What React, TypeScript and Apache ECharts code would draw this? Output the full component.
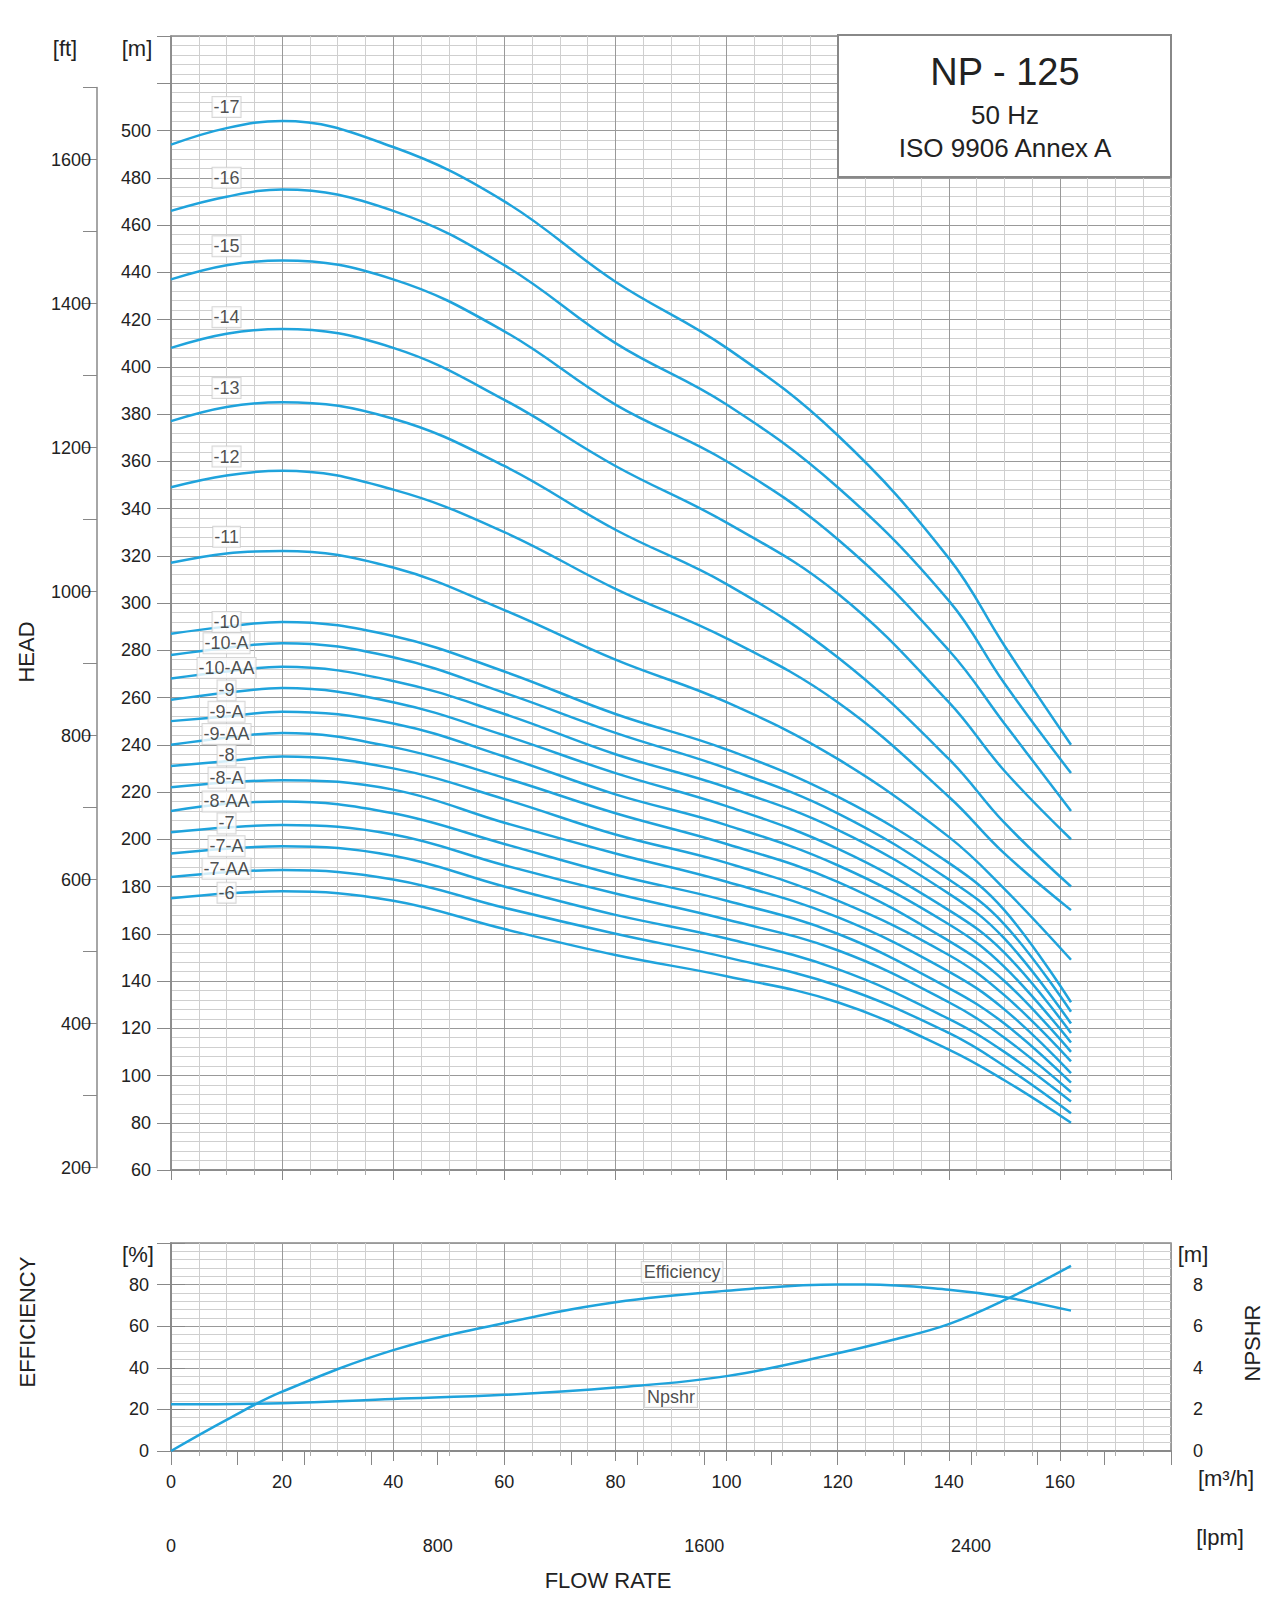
import React, { useEffect, useRef } from "react";
import * as echarts from "echarts";

const flowX = [0, 10, 20, 40, 60, 80, 100, 120, 140, 150, 162];
const curveNames = ["-17", "-16", "-15", "-14", "-13", "-12", "-11", "-10", "-10-A", "-10-AA", "-9", "-9-A", "-9-AA", "-8", "-8-A", "-8-AA", "-7", "-7-A", "-7-AA", "-6"];
const curveHeads = [
  [494, 501, 504, 493, 470, 436, 408, 371, 319, 282, 240],
  [466, 472, 475, 466, 443, 410, 384, 349, 301, 266, 228],
  [437, 443, 445, 437, 415, 384, 360, 327, 280, 249, 212],
  [408, 414, 416, 408, 386, 358, 334, 304, 258, 229, 200],
  [377, 383, 385, 378, 358, 331, 308, 277, 234, 207, 180],
  [349, 354, 356, 348, 330, 306, 285, 258, 218, 194, 170],
  [317, 321, 322, 315, 297, 276, 258, 234, 201, 179, 149],
  [287, 290, 292, 286, 271, 253, 238, 218, 190, 170, 131],
  [278, 281, 283, 277, 262, 245, 230, 211, 183, 164, 127],
  [268, 271, 273, 267, 253, 236, 222, 204, 177, 158, 122],
  [259, 262, 264, 258, 244, 228, 214, 196, 170, 152, 118],
  [250, 252, 254, 249, 235, 219, 206, 189, 164, 146, 114],
  [240, 243, 245, 239, 226, 211, 198, 182, 157, 140, 110],
  [231, 233, 235, 230, 217, 202, 190, 174, 151, 134, 106],
  [222, 224, 225, 221, 207, 194, 182, 167, 144, 128, 101],
  [212, 215, 216, 211, 198, 185, 174, 160, 137, 122, 97],
  [203, 205, 206, 202, 189, 177, 166, 153, 131, 116, 93],
  [194, 196, 197, 193, 180, 168, 158, 145, 124, 110, 89],
  [184, 186, 187, 183, 171, 160, 150, 138, 118, 104, 84],
  [175, 177, 178, 174, 162, 151, 142, 131, 111, 98, 80],
];
const labelX = 10;
const labelHeads = [510, 480, 451, 421, 391, 362, 328, 292, 283, 272.5, 263, 254, 244.6, 235.5, 226, 216, 206.7, 197, 187.5, 177.4];

const effX = [0, 10, 20, 40, 60, 80, 100, 120, 125, 140, 150, 162];
const effValues = [0, 15, 28.5, 48.5, 61.5, 71.5, 77, 80, 80, 77.5, 74, 67.5];
const npshX = [0, 20, 40, 60, 80, 100, 120, 130, 140, 150, 162];
const npshValues = [2.25, 2.3, 2.5, 2.7, 3.05, 3.6, 4.7, 5.35, 6.1, 7.25, 8.9];
const effLabel = [92, 86];
const npshLabel = [90, 26];

const BLUE = "#1fa3dc";
const FONT = "Liberation Sans, Arial, sans-serif";

export default function App() {
  const ref = useRef<HTMLDivElement>(null);
  useEffect(() => {
    const chart = echarts.init(ref.current!, undefined, { renderer: "svg" });
    const L = 171, R = 1280 - 1171;
    const mainTop = 36, mainBot = 1170;
    const ymin = 60, ymax = 540;
    const pxPerM = (mainBot - mainTop) / (ymax - ymin);
    const ftToPx = (ft: number) => mainBot - (ft / 3.28084 - ymin) * pxPerM;
    const ftTop = ftToPx(1700), ftBot = ftToPx(200);
    const lbl = { fontFamily: FONT, fontSize: 18, color: "#222" };
    const gridLine = { lineStyle: { color: "#999", width: 1 } };
    const minorLine = { lineStyle: { color: "#cfcfcf", width: 1 } };

    const series: any[] = [];
    curveNames.forEach((n, i) => {
      series.push({
        type: "line", name: n, xAxisIndex: 0, yAxisIndex: 0, smooth: 0.4, showSymbol: false,
        lineStyle: { color: BLUE, width: 2.5 }, silent: true,
        data: flowX.map((x, j) => [x, curveHeads[i][j]]),
      });
    });
    series.push({
      type: "scatter", xAxisIndex: 0, yAxisIndex: 0, symbolSize: 0, silent: true, z: 5,
      data: curveNames.map((n, i) => ({ value: [labelX, labelHeads[i]], name: n })),
      label: {
        show: true, position: "inside", formatter: (p: any) => p.name, ...lbl,
        backgroundColor: "#fff", borderColor: "#ccc", borderWidth: 1, padding: [1, 1],
      },
    });
    series.push({
      type: "line", xAxisIndex: 2, yAxisIndex: 2, smooth: 0.4, showSymbol: false,
      lineStyle: { color: BLUE, width: 2.5 }, data: effX.map((x, j) => [x, effValues[j]]),
    });
    series.push({
      type: "line", xAxisIndex: 2, yAxisIndex: 3, smooth: 0.4, showSymbol: false,
      lineStyle: { color: BLUE, width: 2.5 }, data: npshX.map((x, j) => [x, npshValues[j]]),
    });
    series.push({
      type: "scatter", xAxisIndex: 2, yAxisIndex: 2, symbolSize: 0, z: 5,
      data: [{ value: effLabel, name: "Efficiency" }, { value: npshLabel, name: "Npshr" }],
      label: {
        show: true, position: "inside", formatter: (p: any) => p.name, ...lbl,
        backgroundColor: "#fff", borderColor: "#ccc", borderWidth: 1, padding: [1, 2],
      },
    });

    const text = (x: number, y: number, t: string, size = 22, extra: any = {}) => ({
      type: "text", x, y, z: 10, ...extra,
      style: { text: t, fontSize: size, fontFamily: FONT, fill: "#222", align: "center", verticalAlign: "middle", ...(extra.style || {}) },
    });

    chart.setOption({
      animation: false,
      backgroundColor: "#fff",
      grid: [
        { left: L, right: R, top: mainTop, bottom: 1624 - mainBot, show: true, borderColor: "#888", borderWidth: 1.5 },
        { left: 97, width: 1, top: ftTop, bottom: 1624 - ftBot },
        { left: L, right: R, top: 1243, bottom: 1624 - 1451, show: true, borderColor: "#888", borderWidth: 1.5 },
      ],
      xAxis: [
        {
          gridIndex: 0, type: "value", min: 0, max: 180, interval: 20,
          axisLine: { lineStyle: { color: "#888", width: 1.5 } },
          axisTick: { show: true, length: 10, lineStyle: { color: "#888" } },
          minorTick: { show: true, splitNumber: 4, length: 5, lineStyle: { color: "#aaa" } },
          axisLabel: { show: false },
          splitLine: { show: true, ...gridLine },
          minorSplitLine: { show: true, ...minorLine },
        },
        { gridIndex: 1, type: "value", min: 0, max: 1, show: false },
        {
          gridIndex: 2, type: "value", min: 0, max: 180, interval: 20,
          axisLine: { lineStyle: { color: "#888", width: 1.5 } },
          axisTick: { show: true, length: 10, lineStyle: { color: "#888" } },
          minorTick: { show: true, splitNumber: 4, length: 5, lineStyle: { color: "#aaa" } },
          axisLabel: { ...lbl, margin: 22, formatter: (v: number) => (v >= 180 ? "" : String(v)) },
          splitLine: { show: true, ...gridLine },
          minorSplitLine: { show: true, ...minorLine },
        },
        {
          gridIndex: 2, type: "value", position: "bottom", offset: 64, min: 0, max: 3000, interval: 200,
          axisLine: { show: true, lineStyle: { color: "#888", width: 1.5 } },
          axisTick: { show: true, inside: false, length: 14, lineStyle: { color: "#888" } },
          axisLabel: { ...lbl, margin: 22, formatter: (v: number) => (v % 800 === 0 ? String(v) : "") },
          splitLine: { show: false },
        },
      ],
      yAxis: [
        {
          gridIndex: 0, type: "value", min: ymin, max: ymax, interval: 20,
          axisLine: { show: true, lineStyle: { color: "#888", width: 1.5 } },
          axisTick: { show: true, length: 14, lineStyle: { color: "#888" } },
          axisLabel: { ...lbl, margin: 20, formatter: (v: number) => (v > 500 ? "" : String(v)) },
          splitLine: { show: true, ...gridLine },
          minorSplitLine: { show: true, ...minorLine },
          minorTick: { show: false, splitNumber: 5 },
        },
        {
          gridIndex: 1, type: "value", min: 200, max: 1700, interval: 100,
          axisLine: { show: true, lineStyle: { color: "#888", width: 1.5 } },
          axisTick: { show: true, length: 14, lineStyle: { color: "#888" } },
          axisLabel: { ...lbl, margin: 6, formatter: (v: number) => (v % 200 === 0 && v <= 1600 ? String(v) : "") },
          splitLine: { show: false },
        },
        {
          gridIndex: 2, type: "value", min: 0, max: 100, interval: 20,
          axisLine: { show: true, lineStyle: { color: "#888", width: 1.5 } },
          axisTick: { show: true, length: 14, lineStyle: { color: "#888" } },
          axisLabel: { ...lbl, margin: 22, formatter: (v: number) => (v >= 100 ? "" : String(v)) },
          splitLine: { show: true, ...gridLine },
          minorSplitLine: { show: true, ...minorLine },
          minorTick: { show: false, splitNumber: 5 },
        },
        {
          gridIndex: 2, type: "value", position: "right", min: 0, max: 10, interval: 2,
          axisLine: { show: true, lineStyle: { color: "#888", width: 1.5 } },
          axisTick: { show: true, length: 14, lineStyle: { color: "#888" } },
          axisLabel: { ...lbl, margin: 22, formatter: (v: number) => (v >= 10 ? "" : String(v)) },
          splitLine: { show: false },
        },
      ],
      series,
      graphic: [
        { type: "rect", z: 8, shape: { x: 838, y: 35, width: 333, height: 142 }, style: { fill: "#fff", stroke: "#888", lineWidth: 2 } },
        text(1005, 72, "NP - 125", 38),
        text(1005, 115, "50 Hz", 26),
        text(1005, 148, "ISO 9906 Annex A", 26),
        text(65, 48, "[ft]", 22),
        text(137, 48, "[m]", 22),
        text(26, 652, "HEAD", 22, { rotation: Math.PI / 2 }),
        text(27, 1322, "EFFICIENCY", 22, { rotation: Math.PI / 2 }),
        text(1252, 1343, "NPSHR", 22, { rotation: Math.PI / 2 }),
        text(138, 1254, "[%]", 22),
        text(1193, 1254, "[m]", 22),
        text(1226, 1478, "[m³/h]", 22),
        text(1220, 1537, "[lpm]", 22),
        text(608, 1580, "FLOW RATE", 22),
      ],
    });
    return () => chart.dispose();
  }, []);
  return <div ref={ref} style={{ width: 1280, height: 1624, margin: -8 }} />;
}
